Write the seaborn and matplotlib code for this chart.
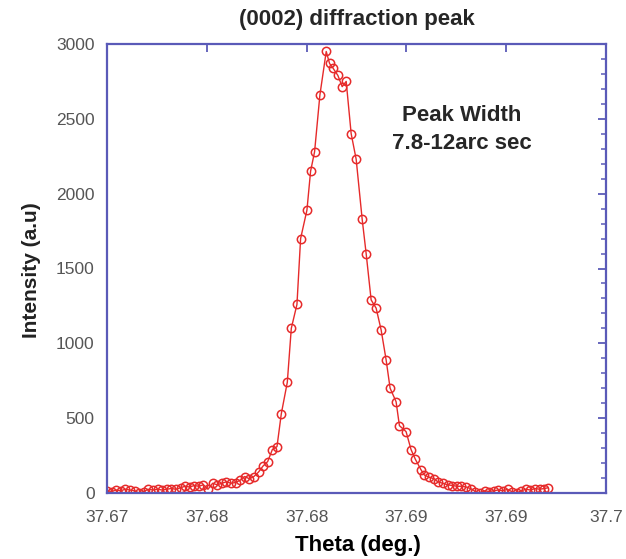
import matplotlib
matplotlib.use("Agg")
import matplotlib.pyplot as plt
import matplotlib.ticker as mticker
import seaborn as sns
import pandas as pd

# scan angle (deg.)
theta = [
    37.67000, 37.67028, 37.67055, 37.67083, 37.67110, 37.67138, 37.67166, 37.67193,
    37.67221, 37.67248, 37.67276, 37.67304, 37.67331, 37.67359, 37.67386, 37.67414,
    37.67442, 37.67469, 37.67497, 37.67524, 37.67552, 37.67580, 37.67607, 37.67635,
    37.67662, 37.67690, 37.67718, 37.67745, 37.67773, 37.67800, 37.67828, 37.67856,
    37.67883, 37.67911, 37.67938, 37.67966, 37.67994, 37.68022, 37.68048, 37.68084,
    37.68108, 37.68142, 37.68164, 37.68202, 37.68224, 37.68248, 37.68280, 37.68318,
    37.68338, 37.68358, 37.68388, 37.68414, 37.68438, 37.68468, 37.68498, 37.68534,
    37.68558, 37.68588, 37.68618, 37.68648, 37.68678, 37.68702, 37.68738, 37.68758,
    37.68798, 37.68828, 37.68854, 37.68888, 37.68908, 37.68938, 37.68968, 37.68988,
    37.69018, 37.69048, 37.69076, 37.69104, 37.69131, 37.69159, 37.69186, 37.69214,
    37.69242, 37.69270, 37.69297, 37.69325, 37.69352, 37.69380, 37.69408, 37.69435,
    37.69463, 37.69490, 37.69518, 37.69546, 37.69573, 37.69601, 37.69628, 37.69652,
]
intensity = [
    15, 10, 20, 15, 25, 20, 15, 0,
    10, 25, 20, 25, 20, 25, 30, 25,
    35, 45, 40, 50, 45, 55, 25, 65,
    55, 65, 75, 65, 70, 85, 110, 95,
    110, 140, 180, 210, 290, 310, 530, 740,
    1100, 1260, 1700, 1890, 2150, 2280, 2660, 2950,
    2870, 2840, 2790, 2715, 2750, 2400, 2230, 1830,
    1600, 1290, 1235, 1090, 890, 700, 610, 450,
    410, 290, 225, 155, 120, 105, 95, 75,
    65, 55, 50, 45, 45, 40, 30, 10,
    0, 15, 10, 15, 20, 15, 25, 8,
    0, 15, 25, 20, 30, 25, 30, 35,
]
df = pd.DataFrame({"theta": theta, "intensity": intensity})

x_ticks = [37.670, 37.676, 37.682, 37.688, 37.694, 37.700]
y_ticks = [0, 500, 1000, 1500, 2000, 2500, 3000]

red = "#e62a2a"
blue = "#5a5ab8"

sns.set_theme(style="white")
plt.rcParams["font.family"] = ["Liberation Sans", "DejaVu Sans"]

fig = plt.figure(figsize=(6.26, 5.59), dpi=100)
ax = fig.add_axes([107 / 626, 66 / 559, 499 / 626, 449 / 559])

sns.lineplot(data=df, x="theta", y="intensity", ax=ax, color=red, linewidth=1.0,
             marker="o", markersize=6, markerfacecolor="none",
             markeredgecolor=red, markeredgewidth=1.1)

ax.set_xlim(37.670, 37.700)
ax.set_ylim(0, 3000)
ax.set_xticks(x_ticks)
ax.xaxis.set_major_formatter(mticker.FuncFormatter(lambda v, p: f"{round(v, 2):g}"))
ax.set_yticks(y_ticks)
ax.yaxis.set_minor_locator(mticker.MultipleLocator(100))

for s in ax.spines.values():
    s.set_visible(True)
    s.set_color(blue)
    s.set_linewidth(1.6)

ax.tick_params(axis="both", which="both", direction="in", color=blue,
               top=True, right=True, labelcolor="#555555", labelsize=12.5)
ax.tick_params(axis="both", which="major", length=6, width=1.3)
ax.tick_params(axis="y", which="minor", length=3.5, width=1.1)
ax.tick_params(axis="x", pad=12)
ax.tick_params(axis="y", pad=9)

ax.set_xlabel("Theta (deg.)", fontsize=16, fontweight="bold", color="black")
ax.set_ylabel("Intensity (a.u)", fontsize=15, fontweight="bold", color="#222222")
ax.xaxis.label.set_va("center")
ax.yaxis.label.set_va("center")
ax.xaxis.set_label_coords(0.503, -0.116)
ax.yaxis.set_label_coords(-0.152, 0.497)
ax.set_title("(0002) diffraction peak", fontsize=16, fontweight="bold", pad=14)

ax.text(0.711, 0.81, "Peak Width\n7.8-12arc sec", transform=ax.transAxes,
        ha="center", va="center", fontsize=16, fontweight="bold", linespacing=1.4)

fig.savefig("out.png", dpi=100, facecolor="white")
